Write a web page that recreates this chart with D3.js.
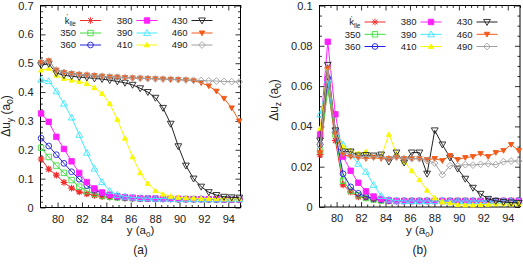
<!DOCTYPE html>
<html><head><meta charset="utf-8">
<script src="https://cdn.jsdelivr.net/npm/d3@7"></script>
<style>body{margin:0;background:#fff}svg{display:block}text{font-family:"Liberation Sans",Arial,sans-serif}</style>
</head><body><svg id="c" width="523" height="265"></svg>
<script>
const yGrid = [78.65,79.275,79.9,80.525,81.15,81.775,82.4,83.025,83.65,84.275,84.9,85.525,86.15,86.775,87.4,88.025,88.65,89.275,89.9,90.525,91.15,91.775,92.4,93.025,93.65,94.275,94.9];
const seriesNames = ["k'lle","350","360","380","390","410","430","460","490"];
const xTicks = [80,82,84,86,88,90,92,94];
const yTicksA = [0,0.1,0.2,0.3,0.4,0.5,0.6,0.7];
const yTickLabelsA = ["0","0.1","0.2","0.3","0.4","0.5","0.6","0.7"];
const yTicksB = [0,0.02,0.04,0.06,0.08,0.1];
const yTickLabelsB = ["0","0.02","0.04","0.06","0.08","0.1"];

// panel (a): Δu_y
const aK   = [0.168,0.133,0.112,0.087,0.067,0.054,0.047,0.042,0.038,0.036,0.034,0.033,0.032,0.031,0.031,0.030,0.030,0.030,0.029,0.029,0.029,0.029,0.028,0.028,0.028,0.028,0.028];
const a350 = [0.207,0.175,0.145,0.120,0.095,0.072,0.057,0.047,0.041,0.037,0.035,0.033,0.032,0.031,0.031,0.030,0.030,0.030,0.029,0.029,0.029,0.029,0.028,0.028,0.028,0.028,0.028];
const a360 = [0.240,0.213,0.183,0.153,0.124,0.098,0.076,0.060,0.050,0.043,0.038,0.035,0.033,0.032,0.031,0.030,0.030,0.030,0.029,0.029,0.029,0.029,0.029,0.028,0.028,0.028,0.028];
const a380 = [0.326,0.297,0.245,0.203,0.160,0.120,0.088,0.066,0.052,0.044,0.039,0.036,0.034,0.032,0.031,0.031,0.030,0.030,0.030,0.029,0.029,0.029,0.029,0.029,0.028,0.028,0.028];
const a390 = [0.443,0.438,0.403,0.360,0.312,0.252,0.190,0.135,0.088,0.058,0.044,0.038,0.035,0.033,0.032,0.031,0.031,0.030,0.030,0.030,0.029,0.029,0.029,0.029,0.029,0.029,0.029];
const a410 = [0.476,0.482,0.458,0.447,0.441,0.436,0.429,0.415,0.395,0.360,0.305,0.240,0.175,0.120,0.083,0.058,0.046,0.039,0.035,0.033,0.032,0.031,0.031,0.031,0.030,0.030,0.030];
const a430 = [0.493,0.498,0.466,0.458,0.455,0.452,0.450,0.447,0.445,0.441,0.437,0.432,0.425,0.413,0.400,0.380,0.345,0.290,0.212,0.145,0.100,0.072,0.053,0.043,0.037,0.035,0.034];
const a460 = [0.503,0.508,0.476,0.468,0.464,0.461,0.459,0.457,0.455,0.453,0.452,0.450,0.449,0.448,0.447,0.446,0.445,0.444,0.443,0.442,0.439,0.432,0.421,0.403,0.378,0.345,0.300];
const a490 = [0.503,0.508,0.476,0.468,0.464,0.461,0.459,0.457,0.455,0.453,0.452,0.450,0.449,0.448,0.447,0.446,0.445,0.444,0.443,0.442,0.441,0.440,0.439,0.438,0.437,0.436,0.435];

// panel (b): Δu_z
const bK   = [0.026,0.060,0.033,0.011,0.0075,0.005,0.0045,0.0037,0.0033,0.0031,0.003,0.003,0.003,0.003,0.003,0.003,0.003,0.003,0.003,0.003,0.003,0.003,0.003,0.003,0.003,0.003,0.003];
const b350 = [0.028,0.059,0.036,0.013,0.008,0.0058,0.0045,0.0037,0.0032,0.003,0.003,0.003,0.003,0.003,0.003,0.003,0.003,0.003,0.003,0.003,0.003,0.003,0.003,0.003,0.003,0.003,0.003];
const b360 = [0.031,0.064,0.037,0.0165,0.010,0.0068,0.0052,0.0042,0.0036,0.0032,0.003,0.003,0.003,0.003,0.003,0.003,0.003,0.003,0.003,0.003,0.003,0.003,0.003,0.003,0.003,0.003,0.003];
const b380 = [0.036,0.082,0.046,0.025,0.018,0.012,0.0078,0.0052,0.004,0.0033,0.003,0.003,0.003,0.003,0.003,0.003,0.003,0.003,0.003,0.003,0.003,0.003,0.003,0.003,0.003,0.003,0.003];
const b390 = [0.046,0.063,0.038,0.031,0.026,0.0215,0.0175,0.011,0.0055,0.0037,0.0032,0.003,0.003,0.003,0.003,0.003,0.003,0.003,0.003,0.003,0.003,0.003,0.003,0.003,0.003,0.003,0.003];
const b410 = [0.039,0.069,0.037,0.030,0.028,0.0265,0.0275,0.025,0.025,0.036,0.0265,0.0225,0.018,0.0135,0.0083,0.0045,0.0025,0.002,0.0012,0.001,0.001,0.0012,0.0013,0.0015,0.0015,0.0015,0.0016];
const b430 = [0.033,0.0705,0.038,0.0275,0.0275,0.0255,0.0258,0.0255,0.026,0.0225,0.027,0.022,0.027,0.027,0.0165,0.038,0.031,0.0245,0.019,0.014,0.0095,0.0065,0.004,0.003,0.0025,0.0022,0.002];
const b460 = [0.027,0.069,0.036,0.026,0.025,0.0245,0.024,0.0245,0.024,0.024,0.0245,0.024,0.024,0.024,0.0235,0.024,0.023,0.0255,0.0235,0.0245,0.025,0.0265,0.025,0.027,0.028,0.031,0.028];
const b490 = [0.031,0.069,0.037,0.027,0.0265,0.025,0.025,0.025,0.025,0.024,0.025,0.024,0.024,0.024,0.023,0.0218,0.016,0.0205,0.0205,0.021,0.0208,0.0212,0.0215,0.021,0.0225,0.0228,0.0228];

const colors = ["#f22b2b","#3ede3e","#2020e0","#ff20ff","#40e8ff","#f8f800","#222222","#f25a1a","#a0a0a0"];
const markers = ["star","osq","ocirc","fsq","otri","ftri","odtri","fdtri","odia"];

function markerPath(t, s){
  const p = d3.path();
  if(t==="star"){ const a=s*0.72;
    p.moveTo(-s,0);p.lineTo(s,0);p.moveTo(0,-s);p.lineTo(0,s);
    p.moveTo(-a,-a);p.lineTo(a,a);p.moveTo(-a,a);p.lineTo(a,-a);}
  else if(t==="osq"||t==="fsq"){ const a=s*0.8; p.rect(-a,-a,2*a,2*a);}
  else if(t==="ocirc"){ p.arc(0,0,s*0.85,0,2*Math.PI);}
  else if(t==="otri"||t==="ftri"){ const a = t==="ftri"? s*0.75 : s; p.moveTo(0,-a);p.lineTo(a,a*0.75);p.lineTo(-a,a*0.75);p.closePath();}
  else if(t==="odtri"||t==="fdtri"){ const a = t==="fdtri"? s*0.8 : s; p.moveTo(0,a);p.lineTo(a,-a*0.75);p.lineTo(-a,-a*0.75);p.closePath();}
  else if(t==="odia"){ p.moveTo(0,-s);p.lineTo(s,0);p.lineTo(0,s);p.lineTo(-s,0);p.closePath();}
  return p.toString();
}
const filled = t => t==="fsq"||t==="ftri"||t==="fdtri";

const svg = d3.select("#c");

function panel(cfg){
  const {left,right,top,bottom,series,yMax,yTicks,yLabels,yMinorStep,ylab,sub,ylabY,cap,legRows,legCols} = cfg;
  const w = right-left, h = bottom-top;
  const x = d3.scaleLinear().domain([78.6,95.0]).range([0,w]);
  const y = d3.scaleLinear().domain([0,yMax]).range([h,0]);
  const g = svg.append("g").attr("transform",`translate(${left},${top})`);
  const minorX = d3.range(79,95.01,0.5).filter(v=>Math.abs(v/2-Math.round(v/2))>1e-6);
  const minorY = d3.range(0,yMax+1e-9,yMinorStep).filter(v=>!yTicks.some(t=>Math.abs(t-v)<1e-9));
  const style = sel => { sel.select(".domain").remove(); sel.selectAll("line").attr("stroke","#000").attr("stroke-width",0.8); sel.selectAll("text").attr("font-size",11).attr("fill","#222").attr("font-family",'"Liberation Sans",Arial,sans-serif'); };
  g.append("g").attr("transform",`translate(0,${h})`).call(d3.axisBottom(x).tickValues(xTicks).tickSize(-5).tickPadding(7.5).tickFormat(d3.format("d"))).call(style);
  g.append("g").attr("transform",`translate(0,${h})`).call(d3.axisBottom(x).tickValues(minorX).tickSize(-2.5).tickFormat("")).call(style);
  g.append("g").call(d3.axisTop(x).tickValues(xTicks).tickSize(-5).tickFormat("")).call(style);
  g.append("g").call(d3.axisTop(x).tickValues(minorX).tickSize(-2.5).tickFormat("")).call(style);
  g.append("g").call(d3.axisLeft(y).tickValues(yTicks).tickSize(-5).tickPadding(7).tickFormat((d,i)=>yLabels[i])).call(style);
  g.append("g").call(d3.axisLeft(y).tickValues(minorY).tickSize(-2.5).tickFormat("")).call(style);
  g.append("g").attr("transform",`translate(${w},0)`).call(d3.axisRight(y).tickValues(yTicks).tickSize(-5).tickFormat("")).call(style);
  g.append("g").attr("transform",`translate(${w},0)`).call(d3.axisRight(y).tickValues(minorY).tickSize(-2.5).tickFormat("")).call(style);
  g.append("rect").attr("width",w).attr("height",h).attr("fill","none").attr("stroke","#000").attr("stroke-width",1);

  const line = d3.line().x((d,i)=>x(yGrid[i])).y(d=>y(d));
  const clip = "clip"+sub;
  g.append("clipPath").attr("id",clip).append("rect").attr("x",-4).attr("y",-4).attr("width",w+8).attr("height",h+8);
  const dg = g.append("g").attr("clip-path",`url(#${clip})`);
  series.forEach((vals,k)=>{
    dg.append("path").attr("d",line(vals)).attr("fill","none").attr("stroke",colors[k]).attr("stroke-width",1);
    dg.selectAll(null).data(vals).enter().append("path")
      .attr("transform",(d,i)=>`translate(${x(yGrid[i])},${y(d)})`)
      .attr("d",markerPath(markers[k],3.4))
      .attr("fill",filled(markers[k])?colors[k]:"none")
      .attr("stroke",colors[k]).attr("stroke-width",markers[k]==="star"?1.2:0.9);
  });

  // legend
  seriesNames.forEach((n,k)=>{
    const c=Math.floor(k/3), r=k%3;
    const lx=legCols[c], ly=legRows[r]-top;
    const t = g.append("text").attr("x",lx-4).attr("y",ly+3.3).attr("text-anchor","end").attr("font-size",9.5).attr("fill","#222");
    if(k===0){ t.append("tspan").text("k"); t.append("tspan").attr("font-size",6.5).attr("dy",2.5).text("lle"); t.append("tspan").attr("font-size",6.5).attr("dy",-7).attr("dx",-9.5).text("'"); }
    else t.text(n);
    g.append("line").attr("x1",lx).attr("x2",lx+21).attr("y1",ly).attr("y2",ly).attr("stroke",colors[k]).attr("stroke-width",1);
    g.append("path").attr("transform",`translate(${lx+10.5},${ly})`).attr("d",markerPath(markers[k],3.4))
      .attr("fill",filled(markers[k])?colors[k]:"none").attr("stroke",colors[k]).attr("stroke-width",0.9);
  });

  // axis labels
  const cx = left + w/2;
  const xl = svg.append("text").attr("x",cx).attr("y",234).attr("text-anchor","middle").attr("font-size",11.5).attr("fill","#222");
  xl.append("tspan").text("y (a"); xl.append("tspan").attr("font-size",8).attr("dy",3).text("0"); xl.append("tspan").attr("dy",-3).text(")");
  const yl = svg.append("text").attr("transform",`translate(${cfg.ylabX},${ylabY}) rotate(-90)`).attr("text-anchor","middle").attr("font-size",12).attr("fill","#222");
  yl.append("tspan").text("Δu"); yl.append("tspan").attr("font-size",8.5).attr("dy",3).text(ylab); yl.append("tspan").attr("dy",-3).text(" (a");
  yl.append("tspan").attr("font-size",8.5).attr("dy",3).text("0"); yl.append("tspan").attr("dy",-3).text(")");
  svg.append("text").attr("x",cx).attr("y",254).attr("text-anchor","middle").attr("font-size",12).attr("fill","#222")
    .attr("font-family",'"Liberation Serif","Times New Roman",serif').text(cap);
}

panel({left:40.5,right:240.5,top:5.5,bottom:207.5,series:[aK,a350,a360,a380,a390,a410,a430,a460,a490],
  yMax:0.7,yTicks:yTicksA,yLabels:yTickLabelsA,yMinorStep:0.02,ylab:"y",sub:"a",ylabX:10,ylabY:116,cap:"(a)",
  legRows:[20.5,33,45],legCols:[39.5,96,151]});
panel({left:319.5,right:520,top:5.5,bottom:207,series:[bK,b350,b360,b380,b390,b410,b430,b460,b490],
  yMax:0.1,yTicks:yTicksB,yLabels:yTickLabelsB,yMinorStep:0.005,ylab:"z",sub:"b",ylabX:278,ylabY:100,cap:"(b)",
  legRows:[22,34.3,46.5],legCols:[45,101,157]});
</script></body></html>
